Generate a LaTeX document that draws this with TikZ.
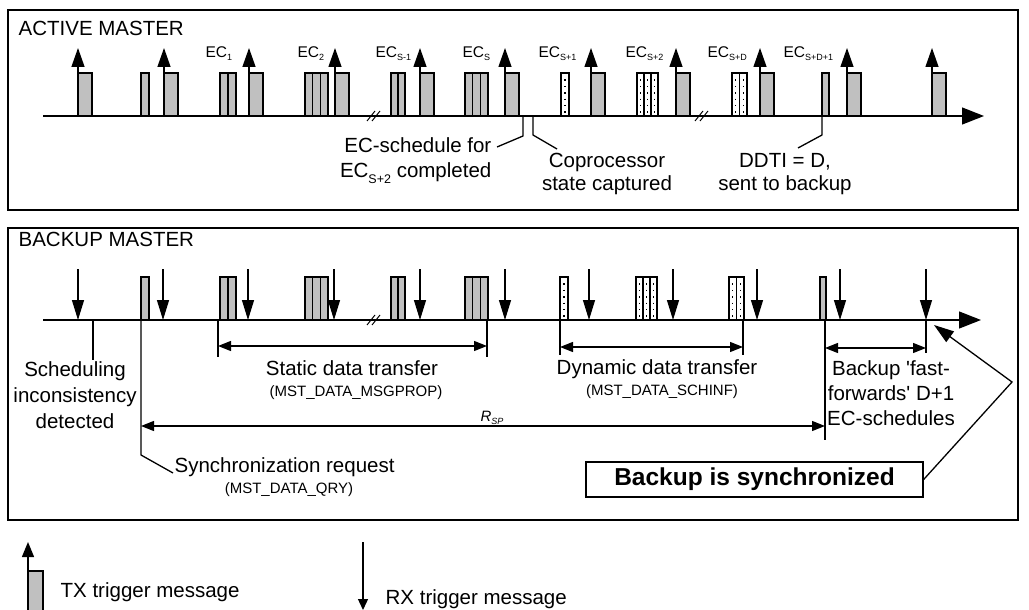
\documentclass[tikz,border=0pt]{standalone}
\usepackage{fontspec}
\setmainfont{Liberation Sans}
\usetikzlibrary{arrows.meta}
\definecolor{slotgray}{HTML}{C0C0C0}
\newcommand{\ec}[1]{EC\raisebox{-3pt}{\fontsize{9}{9}\selectfont #1}}

\begin{document}
\begin{tikzpicture}[
        x=1pt,
        y=-1pt,
        line width=1.3pt,
        >={Triangle[length=13pt, width=10pt]},
        every node/.style={inner sep=0pt, font=\fontsize{20.5}{25}\selectfont},
        frame/.style={draw, line width=1.5pt},
        slot/.style={draw, fill=slotgray, anchor=south west, outer sep=0pt,
            minimum width=#1, minimum height=43pt},
        slot/.default=14pt,
        dslot/.style={slot=#1, fill=white, path picture={
                \draw[line width=1.2pt, dash pattern=on 1.4pt off 5pt]
                (path picture bounding box.north) -- (path picture bounding box.south);}},
        tx/.style={-{Triangle[length=19pt, width=13pt]}},
        rx/.style={-{Triangle[length=20pt, width=12pt]}},
        axis/.style={-{Triangle[length=22pt, width=17pt]}},
        brk/.style={line width=1pt},
        ec/.style={font=\fontsize{15.5}{18}\selectfont, anchor=base west},
        msg/.style={font=\fontsize{15}{18}\selectfont, anchor=base},
        twoline/.style={align=center, anchor=base, font=\fontsize{20.5}{23}\selectfont}
    ]
    \useasboundingbox (0,0) rectangle (1029,610);

    % active master
    \draw[frame] (8,10) rectangle (1018,210);
    \node[anchor=base west] (amtitle) at (18,36) {ACTIVE MASTER};
    \coordinate (am0) at (43,116);
    \coordinate (am1) at (984,116);
    \draw[axis] (am0) -- (am1);
    \draw[brk] (367,121) -- (375,111) (372,121) -- (380,111);
    \draw[brk] (695,121) -- (703,111) (700,121) -- (708,111);

    \foreach \n/\x in {1/78,2/164,3/249,4/335,5/420,6/505,7/591,8/676,9/760,10/847,11/932}{
        \node[slot] (tx\n) at (\x,116) {};
        \draw[tx] (tx\n.north west) -- ++(0,-25);
    }
    \node[slot=8pt] (amq) at (141,116) {};
    \foreach \i in {0,1} \node[slot=8pt] (amA\i) at (220+8*\i,116) {};
    \foreach \i in {0,1,2} \node[slot=7.7pt] (amB\i) at (305+7.7*\i,116) {};
    \foreach \i in {0,1} \node[slot=7pt] (amC\i) at (391+7*\i,116) {};
    \foreach \i in {0,1,2} \node[slot=7.7pt] (amD\i) at (465+7.7*\i,116) {};
    \node[dslot=8pt] (amE) at (561,116) {};
    \foreach \i in {0,1,2} \node[dslot=7pt] (amF\i) at (637+7*\i,116) {};
    \foreach \i in {0,1} \node[dslot=7.5pt] (amG\i) at (732+7.5*\i,116) {};
    \node[slot=7pt] (amH) at (822,116) {};

    \node[ec] (ec1) at (205,58) {\ec{1}};
    \node[ec] (ec2) at (297,58) {\ec{2}};
    \node[ec] (ecsm) at (375,58) {\ec{S-1}};
    \node[ec] (ecs) at (462,58) {\ec{S}};
    \node[ec] (ecsp) at (538,58) {\ec{S+1}};
    \node[ec] (ecspp) at (625,58) {\ec{S+2}};
    \node[ec] (ecsd) at (707,58) {\ec{S+D}};
    \node[ec] (ecsdp) at (783,58) {\ec{S+D+1}};

    \coordinate (schend) at (497,147);
    \draw (523,116) -- (523,136) -- (schend);
    \node[anchor=base east, align=right, font=\fontsize{20.5}{25}\selectfont] (sched) at (492,177)
        {EC-schedule for\\EC\raisebox{-6pt}{\fontsize{12.5}{12}\selectfont S+2} completed};
    \coordinate (cpend) at (557,149);
    \draw (533,116) -- (533,135) -- (cpend);
    \node[twoline] (copro) at (607,190) {Coprocessor\\state captured};
    \coordinate (ddend) at (798,148);
    \draw (822,116) -- (822,135) -- (ddend);
    \node[twoline] (ddti) at (785,190) {DDTI = D,\\sent to backup};

    % backup master
    \draw[frame] (8,228) rectangle (1018,520);
    \node[anchor=base west] (bmtitle) at (18,246) {BACKUP MASTER};
    \coordinate (bm0) at (43,320);
    \coordinate (bm1) at (981,320);
    \draw[axis] (bm0) -- (bm1);
    \draw[brk] (367,325) -- (375,315) (372,325) -- (380,315);

    \node[slot=8pt] (bmq) at (141,320) {};
    \foreach \i in {0,1} \node[slot=8pt] (bmA\i) at (220+8*\i,320) {};
    \foreach \i in {0,1,2} \node[slot=7.7pt] (bmB\i) at (305+7.7*\i,320) {};
    \foreach \i in {0,1} \node[slot=7pt] (bmC\i) at (391+7*\i,320) {};
    \foreach \i in {0,1,2} \node[slot=7.7pt] (bmD\i) at (465+7.7*\i,320) {};
    \node[dslot=8pt] (bmE) at (560,320) {};
    \foreach \i in {0,1,2} \node[dslot=7pt] (bmF\i) at (636+7*\i,320) {};
    \foreach \i in {0,1} \node[dslot=7.5pt] (bmG\i) at (729+7.5*\i,320) {};
    \node[slot=6pt] (bmH) at (820,320) {};

    \foreach \n/\x in {1/78,2/163,3/248,4/334,5/420,6/505,7/589,8/673,9/757,10/840,11/926}{
        \coordinate (rx\n) at (\x,320);
        \draw[rx] ([yshift=51pt]rx\n) -- (rx\n);
    }

    \coordinate (sc) at (93,360);
    \draw (93,320) -- (sc);
    \node[align=center, anchor=base, font=\fontsize{20.5}{26}\selectfont] (incons) at (75,428)
        {Scheduling\\inconsistency\\detected};

    \coordinate (sq) at (173,473);
    \draw (bmq.south west) -- (141,455) -- (sq);
    \node[anchor=base west] (syncreq) at (174,472) {Synchronization request};
    \node[msg] (qry) at (289,493) {(MST\_DATA\_QRY)};

    \coordinate (st0) at (218,346);
    \coordinate (st1) at (487,346);
    \draw (218,320) -- (218,357) (487,320) -- (487,357);
    \draw[<->] (st0) -- (st1);
    \node[anchor=base] (static) at (352,375) {Static data transfer};
    \node[msg] (msgprop) at (356,396) {(MST\_DATA\_MSGPROP)};

    \coordinate (dy0) at (560,347);
    \coordinate (dy1) at (743,347);
    \draw (560,320) -- (560,355) (743,320) -- (743,355);
    \draw[<->] (dy0) -- (dy1);
    \node[anchor=base] (dynamic) at (657,374) {Dynamic data transfer};
    \node[msg] (schinf) at (662,395) {(MST\_DATA\_SCHINF)};

    \coordinate (rsp0) at (141,426);
    \coordinate (rsp1) at (825,426);
    \draw (825,320) -- (825,440);
    \draw[<->] (rsp0) -- (rsp1);
    \node[anchor=base, font=\fontsize{15}{18}\selectfont\itshape] (rsp) at (492,421)
        {R\raisebox{-3pt}{\fontsize{9}{9}\selectfont SP}};

    \coordinate (ff0) at (825,348);
    \coordinate (ff1) at (926,348);
    \draw (926,320) -- (926,353);
    \draw[<->] (ff0) -- (ff1);
    \node[align=center, anchor=base, font=\fontsize{20.5}{25}\selectfont] (ffwd) at (891,425)
        {Backup \textquotesingle fast-\\forwards\textquotesingle{} D+1\\EC-schedules};

    \node[draw, line width=1.3pt, minimum width=337pt, minimum height=35pt,
        font=\bfseries\fontsize{24.5}{28}\selectfont] (synced) at (754.5,479.5) {Backup is synchronized};
    \coordinate (bend) at (1012,382);
    \coordinate (bhit) at (934,325);
    \draw[-{Triangle[length=20pt, width=13pt]}] (synced.east) -- (bend) -- (bhit);

    % legend
    \node[slot=15pt, minimum height=45pt] (legtx) at (28,616) {};
    \draw[-{Triangle[length=15pt, width=12pt]}] (legtx.north west) -- ++(0,-29);
    \node[anchor=base west] (txlabel) at (60,597) {TX trigger message};
    \coordinate (legrx0) at (363,542);
    \coordinate (legrx1) at (363,610);
    \draw[-{Triangle[length=11pt, width=10pt]}] (legrx0) -- (legrx1);
    \node[anchor=base west] (rxlabel) at (385,604) {RX trigger message};
\end{tikzpicture}
\end{document}
